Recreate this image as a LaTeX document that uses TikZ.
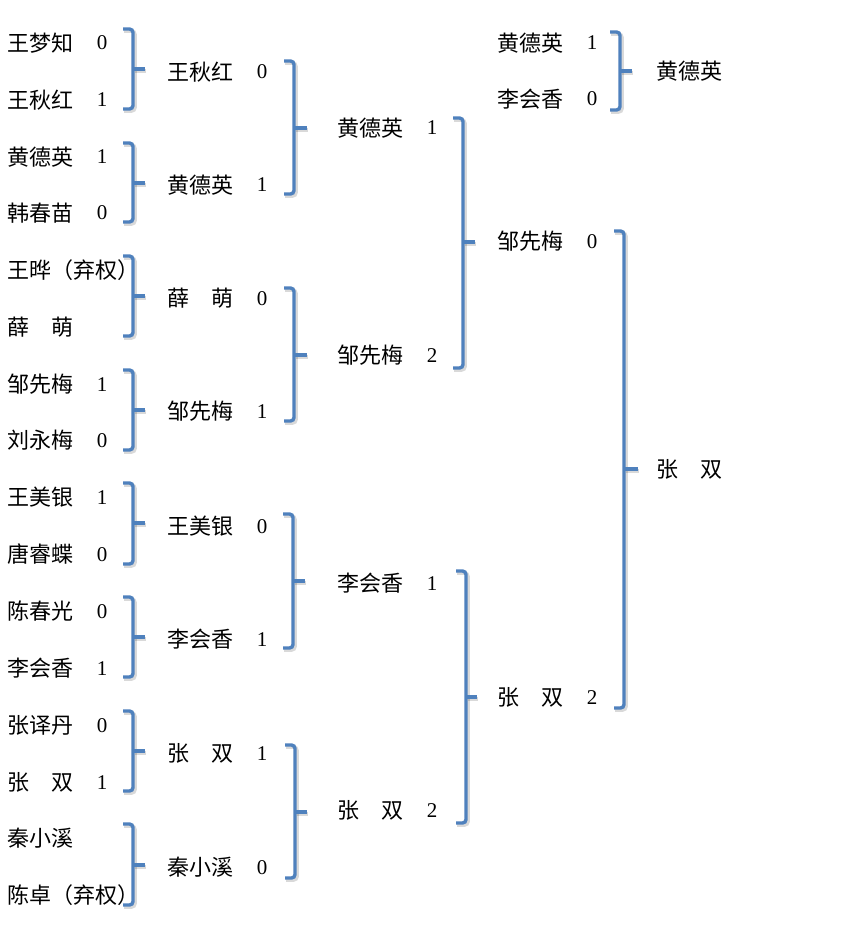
\documentclass[tikz,border=0pt]{standalone}
\usepackage{fontspec}
\setmainfont{Liberation Serif}
\newfontfamily\cjk{Noto Sans CJK SC}
\definecolor{brblue}{RGB}{79,129,189}
\tikzset{
  nm/.style={anchor=base west, inner sep=0pt, font=\cjk\fontsize{22}{22}\selectfont},
  sc/.style={anchor=base, inner sep=0pt, font=\fontsize{21}{21}\selectfont},
  brline/.style={draw=brblue, line width=3.4pt, rounded corners=3.5pt},
  brshadow/.style={draw=black, opacity=0.15, line width=3.6pt, rounded corners=3.5pt}
}
% #1 vertical x, #2 top y, #3 bottom y, #4 tick y, #5 tick end x
\newcommand\bbrace[5]{%
  \draw[brshadow] ({#1-9},{#2+2}) -- ({#1+2},{#2+2}) -- ({#1+2},{#3+2}) -- ({#1-9},{#3+2});
  \draw[brshadow] ({#1+2},{#4+2}) -- ({#5+1},{#4+2});
  \draw[brline] ({#1-10},#2) -- (#1,#2) -- (#1,#3) -- ({#1-10},#3);
  \draw[brline] (#1,#4) -- (#5,#4);
}
% #1 name, #2 x, #3 center y, #4 text
\newcommand\ent[4]{\node[nm] (#1) at (#2,{#3+8.4}) {#4};}
\newcommand\scr[4]{\node[sc] (#1) at (#2,{#3+7}) {#4};}
\begin{document}
\begin{tikzpicture}[x=1pt,y=-1pt]
\useasboundingbox[fill=white] (0,0) rectangle (865,941);
% ---------- column 1 ----------
\ent{a1}{7}{43}{王梦知}        \scr{s1}{102}{43}{0}
\ent{a2}{7}{100}{王秋红}       \scr{s2}{102}{100}{1}
\ent{a3}{7}{157}{黄德英}       \scr{s3}{102}{157}{1}
\ent{a4}{7}{213}{韩春苗}       \scr{s4}{102}{213}{0}
\ent{a5}{7}{270}{王晔（弃权）}
\ent{a6}{7}{327}{薛\quad{}萌}
\ent{a7}{7}{384}{邹先梅}       \scr{s7}{102}{384}{1}
\ent{a8}{7}{440}{刘永梅}       \scr{s8}{102}{440}{0}
\ent{a9}{7}{497}{王美银}       \scr{s9}{102}{497}{1}
\ent{a10}{7}{554}{唐睿蝶}      \scr{s10}{102}{554}{0}
\ent{a11}{7}{611}{陈春光}      \scr{s11}{102}{611}{0}
\ent{a12}{7}{668}{李会香}      \scr{s12}{102}{668}{1}
\ent{a13}{7}{725}{张译丹}      \scr{s13}{102}{725}{0}
\ent{a14}{7}{782}{张\quad{}双} \scr{s14}{102}{782}{1}
\ent{a15}{7}{838}{秦小溪}
\ent{a16}{7}{895}{陈卓（弃权）}
\bbrace{133}{29}{109}{69}{145}
\bbrace{133}{143}{222}{183}{145}
\bbrace{133}{256}{336}{296}{145}
\bbrace{133}{370}{450}{410}{145}
\bbrace{133}{483}{564}{523}{145}
\bbrace{133}{597}{677}{637}{145}
\bbrace{133}{711}{791}{751}{145}
\bbrace{133}{824}{905}{865}{145}
% ---------- column 2 ----------
\ent{b1}{167}{72}{王秋红}        \scr{t1}{262}{72}{0}
\ent{b2}{167}{185}{黄德英}       \scr{t2}{262}{185}{1}
\ent{b3}{167}{298}{薛\quad{}萌}  \scr{t3}{262}{298}{0}
\ent{b4}{167}{411}{邹先梅}       \scr{t4}{262}{411}{1}
\ent{b5}{167}{526}{王美银}       \scr{t5}{262}{526}{0}
\ent{b6}{167}{639}{李会香}       \scr{t6}{262}{639}{1}
\ent{b7}{167}{753}{张\quad{}双}  \scr{t7}{262}{753}{1}
\ent{b8}{167}{867}{秦小溪}       \scr{t8}{262}{867}{0}
\bbrace{294}{61}{194}{128}{307}
\bbrace{294}{288}{421}{355}{307}
\bbrace{293}{514}{648}{581}{305}
\bbrace{295}{745}{878}{812}{307}
% ---------- column 3 ----------
\ent{c1}{337}{128}{黄德英}       \scr{u1}{432}{128}{1}
\ent{c2}{337}{355}{邹先梅}       \scr{u2}{432}{355}{2}
\ent{c3}{337}{583}{李会香}       \scr{u3}{432}{583}{1}
\ent{c4}{337}{810}{张\quad{}双}  \scr{u4}{432}{810}{2}
\bbrace{463}{118}{368}{242}{475}
\bbrace{466}{571}{823}{697}{477}
% ---------- column 4 ----------
\ent{d1}{497}{43}{黄德英}        \scr{v1}{592}{43}{1}
\ent{d2}{497}{99}{李会香}        \scr{v2}{592}{99}{0}
\ent{d3}{497}{241}{邹先梅}       \scr{v3}{592}{241}{0}
\ent{d4}{497}{697}{张\quad{}双}  \scr{v4}{592}{697}{2}
\bbrace{620}{32}{110}{71}{632}
\bbrace{624}{231}{708}{469}{638}
% ---------- column 5 ----------
\ent{e1}{656}{71}{黄德英}
\ent{e2}{656}{469}{张\quad{}双}
\end{tikzpicture}
\end{document}
